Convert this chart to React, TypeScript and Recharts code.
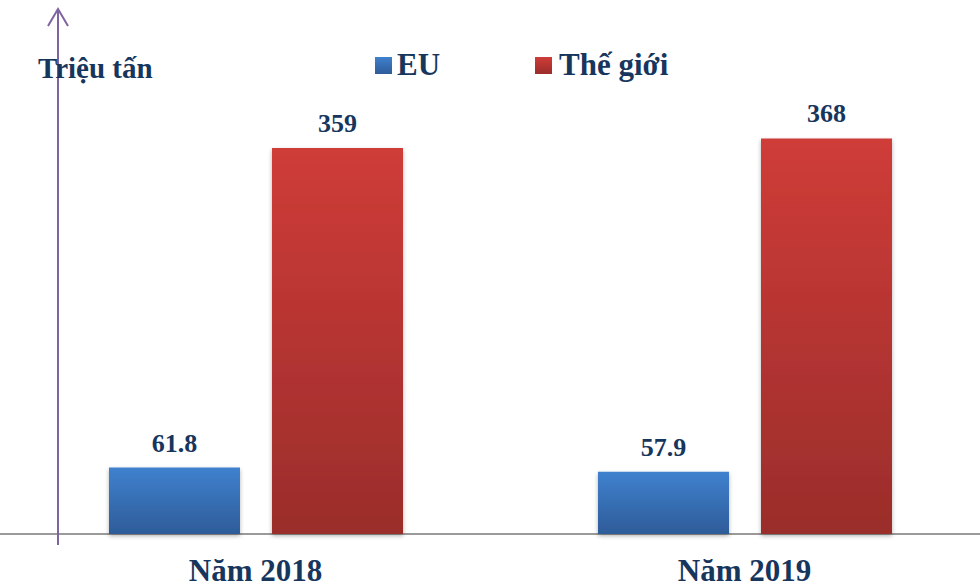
import { BarChart, Bar, XAxis, YAxis, LabelList, Customized } from "recharts";

const categories = ["Năm 2018", "Năm 2019"];
const euValues = [61.8, 57.9];
const worldValues = [359, 368];
const seriesNames = ["EU", "Thế giới"];
const unitLabel = "Triệu tấn";

const data = categories.map((name, i) => ({
  name,
  eu: euValues[i],
  world: worldValues[i],
}));

const FONT = "'Liberation Serif', 'Times New Roman', serif";
const TEXT = "#17365D";
const HEIGHT = 588;
const BASE_Y = 534;
const X_AXIS_H = 30;
const MARGIN = { top: 104, right: 0, bottom: HEIGHT - BASE_Y - X_AXIS_H, left: 11 };

// category label under each group
const Tick = ({ x, payload }: any) => (
  <text x={x} y={BASE_Y + 47} textAnchor="middle" fontFamily={FONT} fontWeight="bold" fontSize={31} fill={TEXT}>
    {payload.value}
  </text>
);

// axis arrow, baseline, unit text and legend
const Decor = () => (
  <g>
    <line x1={0} x2={989} y1={BASE_Y} y2={BASE_Y} stroke="#9a9a9a" strokeWidth={2} />
    <line x1={58} x2={58} y1={9} y2={545} stroke="#8064A2" strokeWidth={2} />
    <polyline points="48,26 58,9 68,26" fill="none" stroke="#8064A2" strokeWidth={2} />
    <text x={38} y={78} fontFamily={FONT} fontWeight="bold" fontSize={29} fill={TEXT}>
      {unitLabel}
    </text>
    <rect x={375} y={57} width={17} height={17} fill="url(#gEU)" />
    <text x={397} y={75} fontFamily={FONT} fontWeight="bold" fontSize={31} fill={TEXT}>
      {seriesNames[0]}
    </text>
    <rect x={535} y={57} width={17} height={17} fill="url(#gWorld)" />
    <text x={559} y={75} fontFamily={FONT} fontWeight="bold" fontSize={31} fill={TEXT}>
      {seriesNames[1]}
    </text>
  </g>
);

export default function App() {
  return (
    <div style={{ position: "absolute", left: 0, top: 0, width: 980, height: HEIGHT, overflow: "hidden", background: "#fff" }}>
      <BarChart width={989} height={HEIGHT} data={data} margin={MARGIN} barSize={131} barGap={32}>
        <defs>
          <linearGradient id="gEU" x1="0" y1="0" x2="0" y2="1">
            <stop offset="0%" stopColor="#3F81CE" />
            <stop offset="100%" stopColor="#2E5C99" />
          </linearGradient>
          <linearGradient id="gWorld" x1="0" y1="0" x2="0" y2="1">
            <stop offset="0%" stopColor="#CF3C38" />
            <stop offset="100%" stopColor="#9A2D2B" />
          </linearGradient>
          <filter id="shadow" x="-10%" y="-10%" width="120%" height="120%">
            <feDropShadow dx="0" dy="2" stdDeviation="2" floodColor="#000" floodOpacity="0.3" />
          </filter>
        </defs>
        <XAxis dataKey="name" height={X_AXIS_H} axisLine={false} tickLine={false} tick={<Tick />} interval={0} />
        <YAxis hide domain={[0, 400]} />
        <Customized component={Decor} />
        <Bar dataKey="eu" name={seriesNames[0]} fill="url(#gEU)" filter="url(#shadow)" isAnimationActive={false}>
          <LabelList dataKey="eu" position="top" offset={16} fontFamily={FONT} fontWeight="bold" fontSize={26} fill={TEXT} />
        </Bar>
        <Bar dataKey="world" name={seriesNames[1]} fill="url(#gWorld)" filter="url(#shadow)" isAnimationActive={false}>
          <LabelList dataKey="world" position="top" offset={16} fontFamily={FONT} fontWeight="bold" fontSize={26} fill={TEXT} />
        </Bar>
      </BarChart>
    </div>
  );
}
